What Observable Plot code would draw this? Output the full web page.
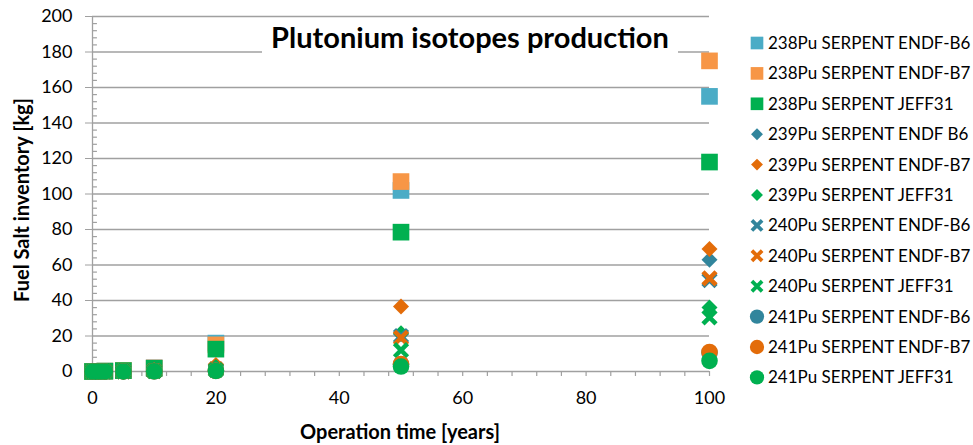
<!DOCTYPE html>
<html><head><meta charset="utf-8">
<script src="https://cdn.jsdelivr.net/npm/d3@7"></script>
<script src="https://cdn.jsdelivr.net/npm/@observablehq/plot@0.6"></script>
<style>
body{margin:0;background:#fff;}
#chart{width:973px;height:445px;}
</style>
</head><body><div id="chart"></div>
<script>
// ---- data ----
const years = [0, 1, 2, 5, 10, 20, 50, 100];

const pu238_B6   = [0, 0.1, 0.2, 0.6, 2.1, 16, 102, 155];
const pu238_B7   = [0, 0.1, 0.2, 0.6, 2.0, 15, 107, 175];
const pu238_JEFF = [0, 0.1, 0.2, 0.5, 1.8, 12.6, 78.5, 118];

const pu239_B6   = [0, 0, 0.1, 0.2, 0.8, 3.0, 21, 63];
const pu239_B7   = [0, 0, 0.1, 0.2, 0.9, 3.6, 36.6, 69];
const pu239_JEFF = [0, 0, 0.1, 0.2, 0.6, 2.5, 21.5, 36];

const pu240_B6   = [0, 0, 0, 0.1, 0.3, 1.2, 20, 51.5];
const pu240_B7   = [0, 0, 0, 0.1, 0.3, 1.3, 19, 52.5];
const pu240_JEFF = [0, 0, 0, 0.1, 0.2, 0.8, 12, 30.5];

const pu241_B6   = [0, 0, 0, 0, 0.1, 0.4, 4.0, 10.5];
const pu241_B7   = [0, 0, 0, 0, 0.1, 0.4, 4.2, 11];
const pu241_JEFF = [0, 0, 0, 0, 0.1, 0.3, 2.8, 6];

const seriesNames = [
  "238Pu SERPENT ENDF-B6", "238Pu SERPENT ENDF-B7", "238Pu SERPENT JEFF31",
  "239Pu SERPENT ENDF B6", "239Pu SERPENT ENDF-B7", "239Pu SERPENT JEFF31",
  "240Pu SERPENT ENDF-B6", "240Pu SERPENT ENDF-B7", "240Pu SERPENT JEFF31",
  "241Pu SERPENT ENDF-B6", "241Pu SERPENT ENDF-B7", "241Pu SERPENT JEFF31"
];
const seriesValues = [
  pu238_B6, pu238_B7, pu238_JEFF,
  pu239_B6, pu239_B7, pu239_JEFF,
  pu240_B6, pu240_B7, pu240_JEFF,
  pu241_B6, pu241_B7, pu241_JEFF
];
const seriesColors = [
  "#4bacc6", "#f79646", "#00b050",
  "#31859c", "#e36c09", "#00b050",
  "#31859c", "#e36c09", "#00b050",
  "#31859c", "#e36c09", "#00b050"
];
const seriesShapes = [
  "square","square","square",
  "diamond","diamond","diamond",
  "times","times","times",
  "circle","circle","circle"
];

const xTicks = [0, 20, 40, 60, 80, 100];
const yTicks = [0, 20, 40, 60, 80, 100, 120, 140, 160, 180, 200];
const xMinor = d3.range(0, 101, 4);
const yMinor = d3.range(0, 201, 4).filter(v => v % 20 !== 0);

const titleText = "Plutonium isotopes production";
const xLabel = "Operation time [years]";
const yLabel = "Fuel Salt inventory [kg]";

// ---- build ----
const FONT = "Lato, 'Open Sans', sans-serif";
const GRID = "#a0a0a0";

const symMap = {square: "square", diamond: "diamond2", times: "times", circle: "circle"};
const rMap = {square: 9.4, diamond: 7.2, times: 6.0, circle: 8.3};

const dotMarks = seriesValues.map((vals, s) => {
  const rows = years.map((x, i) => ({x, y: vals[i]}));
  const shape = seriesShapes[s];
  if (shape === "times") {
    return Plot.dot(rows, {x: "x", y: "y", symbol: symMap[shape], r: rMap[shape],
      stroke: seriesColors[s], strokeWidth: 4.5, fill: "none"});
  }
  return Plot.dot(rows, {x: "x", y: "y", symbol: symMap[shape], r: rMap[shape],
    fill: seriesColors[s], stroke: "none"});
});

const chart = Plot.plot({
  width: 973,
  height: 445,
  marginLeft: 92,
  marginRight: 264,
  marginTop: 16,
  marginBottom: 74,
  style: {fontFamily: FONT, fontSize: "18px", background: "#fff", color: "#000"},
  x: {domain: [0, 100], label: null},
  y: {domain: [0, 200], label: null},
  marks: [
    Plot.gridY(yTicks.filter(d => d > 0), {stroke: GRID, strokeOpacity: 1, strokeWidth: 1.3}),
    Plot.ruleY(yMinor, {x1: 0, x2: 0.8, stroke: GRID, strokeWidth: 1.2}),
    Plot.ruleX(xMinor, {y1: 0, y2: -2.8, stroke: GRID, strokeWidth: 1.2}),
    Plot.ruleX([0], {stroke: GRID, strokeWidth: 1.3}),
    Plot.ruleY([0], {stroke: GRID, strokeWidth: 1.3}),
    Plot.axisY({ticks: yTicks, tickSize: 7, tickPadding: 13, stroke: GRID, fill: "#000",
      fontSize: 18, label: null, tickFormat: d => String(d)}),
    Plot.axisX({ticks: xTicks, tickSize: 0, tickPadding: 20, fill: "#000",
      fontSize: 18, label: null, tickFormat: d => String(d)}),
    ...dotMarks
  ]
});

document.getElementById("chart").appendChild(chart);

const svg = d3.select(chart);

// title box
const tg = svg.append("g");
tg.append("rect").attr("x", 262).attr("y", 21).attr("width", 416).attr("height", 36).attr("fill", "#fff");
tg.append("text").attr("x", 470).attr("y", 48).attr("text-anchor", "middle")
  .attr("font-family", FONT).attr("font-weight", "bold").attr("font-size", 29).attr("fill", "#000")
  .text(titleText);

// axis titles
svg.append("text").attr("x", 400).attr("y", 439).attr("text-anchor", "middle")
  .attr("font-family", FONT).attr("font-weight", "bold").attr("font-size", 20).attr("fill", "#000")
  .text(xLabel);
svg.append("text").attr("transform", "translate(29,200) rotate(-90)").attr("text-anchor", "middle")
  .attr("font-family", FONT).attr("font-weight", "bold").attr("font-size", 20).attr("fill", "#000")
  .text(yLabel);

// legend
const lg = svg.append("g");
const legSize = {square: 160, diamond: 90, times: 70, circle: 160};
const legSym = {square: d3.symbolSquare, diamond: d3.symbolDiamond2, times: d3.symbolTimes, circle: d3.symbolCircle};
seriesNames.forEach((name, s) => {
  const cy = 43 + s * 30.4;
  const shape = seriesShapes[s];
  const p = lg.append("path")
    .attr("transform", `translate(757,${cy})`)
    .attr("d", d3.symbol(legSym[shape], legSize[shape])());
  if (shape === "times") p.attr("fill", "none").attr("stroke", seriesColors[s]).attr("stroke-width", 3.8);
  else p.attr("fill", seriesColors[s]);
  lg.append("text").attr("x", 768).attr("y", cy).attr("dy", "0.35em").attr("text-anchor", "start")
    .attr("font-family", FONT).attr("font-size", 17).attr("fill", "#000").text(name);
});
</script>
</body></html>
